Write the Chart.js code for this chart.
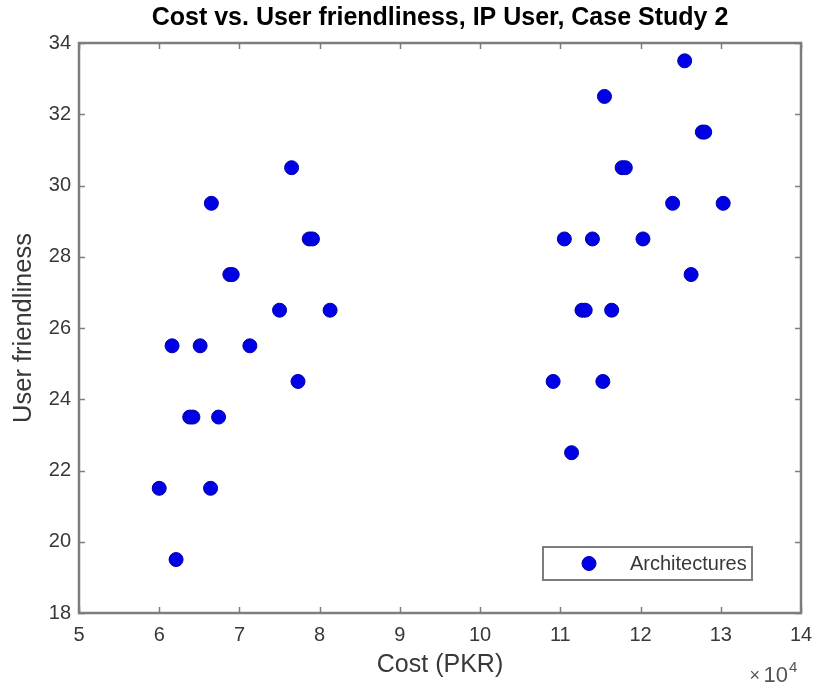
<!DOCTYPE html>
<html>
<head>
<meta charset="utf-8">
<script src="https://cdn.jsdelivr.net/npm/chart.js@4/dist/chart.umd.min.js"></script>
<style>
  html, body { margin: 0; padding: 0; background: #ffffff; }
  #wrap { width: 817px; height: 683px; }
</style>
</head>
<body>
<div id="wrap"><canvas id="c" width="817" height="683"></canvas></div>
<script>
// Labels
const chartTitle = 'Cost vs. User friendliness, IP User, Case Study 2';
const xAxisTitle = 'Cost (PKR)';
const yAxisTitle = 'User friendliness';
const seriesName = 'Architectures';

// Axis limits and tick steps
const costLimits = [50000, 140000];
const costStep = 10000;
const friendlinessLimits = [18, 34];
const friendlinessStep = 2;

// Architectures: cost in PKR and user-friendliness score
const costPKR = [
  60000, 62100, 61600, 65100, 63800, 64200, 67400, 66400, 71300,
  75000, 81300, 77300, 66500, 76500, 68800, 69100, 78700, 79100,
  125500, 115500, 127700, 128000, 117700, 118100, 124000, 130300,
  110500, 114000, 120300, 126300, 112700, 113100, 116400, 109100,
  115300, 111400
];
const userFriendliness = [
  21.5, 19.5, 25.5, 25.5, 23.5, 23.5, 23.5, 21.5, 25.5,
  26.5, 26.5, 24.5, 29.5, 30.5, 27.5, 27.5, 28.5, 28.5,
  33.5, 32.5, 31.5, 31.5, 30.5, 30.5, 29.5, 29.5,
  28.5, 28.5, 28.5, 27.5, 26.5, 26.5, 26.5, 24.5,
  24.5, 22.5
];

const FONT = "'Liberation Sans', Arial, Helvetica, sans-serif";
const AXIS_GRAY = '#7d7d7d';
const TEXT_GRAY = '#383838';
const MARK_FILL = '#0000e6';
const MARK_EDGE = '#0000a8';

const points = costPKR.map((c, i) => ({ x: c, y: userFriendliness[i] }));

// Box around the plot with inward tick marks on all four sides
const axesBox = {
  id: 'axesBox',
  afterDatasetsDraw(chart) {
    const { ctx, chartArea: a, scales: { x, y } } = chart;
    const len = 6;
    ctx.save();
    ctx.strokeStyle = AXIS_GRAY;
    ctx.lineWidth = 1.5;
    ctx.beginPath();
    x.ticks.forEach(t => {
      const px = Math.round(x.getPixelForValue(t.value)) + 0.5;
      ctx.moveTo(px, a.bottom); ctx.lineTo(px, a.bottom - len);
      ctx.moveTo(px, a.top); ctx.lineTo(px, a.top + len);
    });
    y.ticks.forEach(t => {
      const py = Math.round(y.getPixelForValue(t.value)) + 0.5;
      ctx.moveTo(a.left, py); ctx.lineTo(a.left + len, py);
      ctx.moveTo(a.right, py); ctx.lineTo(a.right - len, py);
    });
    ctx.stroke();
    ctx.lineWidth = 2.5;
    ctx.strokeRect(a.left, a.top, a.right - a.left, a.bottom - a.top);
    ctx.restore();
  }
};

// Legend drawn inside the lower-right corner of the plot
const insideLegend = {
  id: 'insideLegend',
  afterDraw(chart) {
    const { ctx, chartArea: a } = chart;
    const ds = chart.data.datasets[0];
    const w = 209, h = 33;
    const x0 = a.right - 49 - w, y0 = a.bottom - 33 - h;
    ctx.save();
    ctx.fillStyle = '#ffffff';
    ctx.fillRect(x0, y0, w, h);
    ctx.strokeStyle = AXIS_GRAY;
    ctx.lineWidth = 2;
    ctx.strokeRect(x0, y0, w, h);
    ctx.beginPath();
    ctx.arc(x0 + 46, y0 + h / 2, 7, 0, Math.PI * 2);
    ctx.fillStyle = ds.backgroundColor;
    ctx.fill();
    ctx.lineWidth = 1;
    ctx.strokeStyle = ds.borderColor;
    ctx.stroke();
    ctx.fillStyle = TEXT_GRAY;
    ctx.font = '20px ' + FONT;
    ctx.textAlign = 'left';
    ctx.textBaseline = 'middle';
    ctx.fillText(ds.label, x0 + 87, y0 + h / 2 + 1);
    ctx.restore();
  }
};

// Scale multiplier shown under the right end of the cost axis
const costExponent = {
  id: 'costExponent',
  afterDraw(chart) {
    const { ctx, chartArea: a } = chart;
    ctx.save();
    ctx.fillStyle = '#555555';
    ctx.textBaseline = 'alphabetic';
    ctx.textAlign = 'right';
    ctx.font = '22px ' + FONT;
    ctx.fillText('10', a.right - 13, chart.height - 1);
    ctx.font = '18px ' + FONT;
    ctx.fillText('\u00d7', a.right - 41, chart.height - 2);
    ctx.textAlign = 'left';
    ctx.font = '15px ' + FONT;
    ctx.fillText('4', a.right - 12, chart.height - 11);
    ctx.restore();
  }
};

new Chart(document.getElementById('c'), {
  type: 'scatter',
  data: {
    datasets: [{
      label: seriesName,
      data: points,
      backgroundColor: MARK_FILL,
      borderColor: MARK_EDGE,
      borderWidth: 1,
      pointRadius: 7,
      pointHoverRadius: 7
    }]
  },
  options: {
    responsive: false,
    devicePixelRatio: 1,
    animation: false,
    events: [],
    layout: { padding: { left: 0, right: 16, top: 0, bottom: 0 } },
    plugins: {
      legend: { display: false },
      tooltip: { enabled: false },
      title: {
        display: true,
        fullSize: false,
        text: chartTitle,
        color: '#000000',
        font: { family: FONT, size: 25, weight: 'bold' },
        padding: { top: 3, bottom: 10 }
      }
    },
    scales: {
      x: {
        type: 'linear',
        min: costLimits[0],
        max: costLimits[1],
        afterFit(scale) {
          scale.height = 70;
          scale.paddingLeft = 0;
          scale.paddingRight = 0;
        },
        border: { display: false },
        grid: { display: false, drawTicks: false },
        ticks: {
          stepSize: costStep,
          padding: 10,
          color: TEXT_GRAY,
          font: { family: FONT, size: 20 },
          maxRotation: 0,
          callback: v => String(v / 10000)
        },
        title: {
          display: true,
          text: xAxisTitle,
          color: TEXT_GRAY,
          font: { family: FONT, size: 25 },
          padding: { top: 0, bottom: 3 }
        }
      },
      y: {
        type: 'linear',
        min: friendlinessLimits[0],
        max: friendlinessLimits[1],
        afterFit(scale) {
          scale.width = 79;
          scale.paddingTop = 0;
          scale.paddingBottom = 0;
        },
        border: { display: false },
        grid: { display: false, drawTicks: false },
        ticks: {
          stepSize: friendlinessStep,
          padding: 8,
          color: TEXT_GRAY,
          font: { family: FONT, size: 20 }
        },
        title: {
          display: true,
          text: yAxisTitle,
          color: TEXT_GRAY,
          font: { family: FONT, size: 25.5 },
          padding: { top: 9, bottom: 0 }
        }
      }
    }
  },
  plugins: [axesBox, insideLegend, costExponent]
});
</script>
</body>
</html>
